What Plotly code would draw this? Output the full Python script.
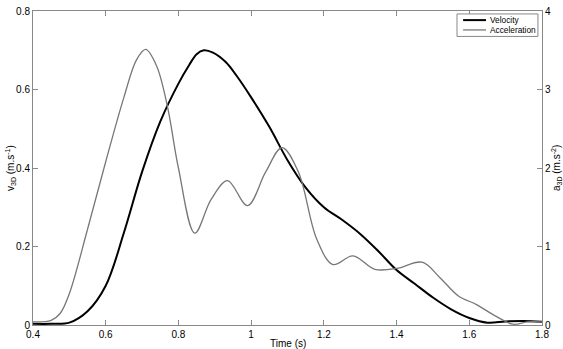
import plotly.graph_objects as go

# velocity (left axis, m/s)
vel_t = [0.40, 0.45, 0.50, 0.55, 0.60, 0.65, 0.70, 0.75, 0.80, 0.83, 0.85, 0.87,
         0.895, 0.93, 0.96, 1.00, 1.05, 1.10, 1.15, 1.20, 1.25, 1.30, 1.35, 1.40,
         1.45, 1.50, 1.55, 1.60, 1.65, 1.70, 1.75, 1.80]
vel_v = [0.003, 0.003, 0.006, 0.035, 0.10, 0.235, 0.39, 0.518, 0.615, 0.663, 0.69, 0.70,
         0.694, 0.67, 0.635, 0.58, 0.505, 0.42, 0.35, 0.30, 0.268, 0.232, 0.188, 0.14,
         0.105, 0.07, 0.04, 0.018, 0.006, 0.009, 0.01, 0.008]

# acceleration (right axis, m/s^2)
acc_t = [0.40, 0.45, 0.475, 0.50, 0.55, 0.60, 0.65, 0.685, 0.71, 0.74, 0.77, 0.80,
         0.845, 0.89, 0.935, 0.99, 1.04, 1.085, 1.13, 1.18, 1.225, 1.28, 1.34, 1.40,
         1.47, 1.52, 1.57, 1.62, 1.67, 1.72, 1.76, 1.80]
acc_v = [0.04, 0.06, 0.15, 0.40, 1.22, 2.08, 2.90, 3.38, 3.51, 3.30, 2.78, 2.00,
         1.17, 1.60, 1.84, 1.52, 1.95, 2.26, 1.95, 1.10, 0.77, 0.88, 0.71, 0.72,
         0.80, 0.60, 0.37, 0.26, 0.12, 0.01, 0.04, 0.04]

names = ['Velocity', 'Acceleration']
colors = ['black', '#777777']
widths = [2, 1.3]

fig = go.Figure()
fig.add_trace(go.Scatter(x=vel_t, y=vel_v, name=names[0], mode='lines',
                         line=dict(color=colors[0], width=widths[0], shape='spline', smoothing=1)))
fig.add_trace(go.Scatter(x=acc_t, y=acc_v, name=names[1], mode='lines', yaxis='y2',
                         line=dict(color=colors[1], width=widths[1], shape='spline', smoothing=1)))

axcol = '#888888'
font = dict(family='Liberation Sans, Arial, sans-serif', size=10, color='black')

# compact matlab-style legend drawn by hand (plotly's own rows are too tall)
shapes = [dict(type='rect', xref='paper', yref='paper', x0=0.833, x1=0.992, y0=0.919, y1=0.9906,
               line=dict(color=axcol, width=1), fillcolor='white', layer='above')]
annotations = []
for i, (nm, c, w) in enumerate(zip(names, colors, widths)):
    yy = 0.971 - i * 0.0313
    shapes.append(dict(type='line', xref='paper', yref='paper', x0=0.845, x1=0.89, y0=yy, y1=yy,
                       line=dict(color=c, width=w), layer='above'))
    annotations.append(dict(text=nm, xref='paper', yref='paper', x=0.894, y=yy, xanchor='left',
                            yanchor='middle', showarrow=False, font=dict(size=8.3)))

annotations += [
    dict(text='Time (s)', xref='paper', yref='paper', x=0.5, y=0, yshift=-18,
         xanchor='center', yanchor='middle', showarrow=False),
    dict(text='v<sub>3D</sub> (m.s<sup>-1</sup>)', xref='paper', yref='paper',
         x=0, y=0.5, xshift=-23, textangle=-90, xanchor='center', yanchor='middle',
         showarrow=False),
    dict(text='a<sub>3D</sub> (m.s<sup>-2</sup>)', xref='paper', yref='paper',
         x=1, y=0.5, xshift=14, textangle=-90, xanchor='center', yanchor='middle',
         showarrow=False),
]

fig.update_layout(
    width=563, height=349,
    margin=dict(l=33, r=21, t=5, b=24),
    paper_bgcolor='white', plot_bgcolor='white',
    font=font,
    showlegend=False,
    xaxis=dict(range=[0.4, 1.8], tickvals=[0.4, 0.6, 0.8, 1.0, 1.2, 1.4, 1.6, 1.8],
               ticktext=['0.4', '0.6', '0.8', '1', '1.2', '1.4', '1.6', '1.8'],
               ticks='inside', ticklen=5, tickcolor=axcol, showline=True, linecolor=axcol,
               mirror='ticks', showgrid=False, zeroline=False, ticklabeloverflow='allow',
               ticklabelstandoff=0),
    yaxis=dict(range=[0, 0.8], tickvals=[0, 0.2, 0.4, 0.6, 0.8],
               ticktext=['0', '0.2', '0.4', '0.6', '0.8'],
               ticks='inside', ticklen=5, tickcolor=axcol, showline=True, linecolor=axcol,
               mirror=True, showgrid=False, zeroline=False, ticklabeloverflow='allow'),
    yaxis2=dict(range=[0, 4], tickvals=[0, 1, 2, 3, 4], overlaying='y', side='right',
                ticks='inside', ticklen=5, tickcolor=axcol, showline=True, linecolor=axcol,
                showgrid=False, zeroline=False, ticklabeloverflow='allow'),
    shapes=shapes,
    annotations=annotations,
)

# the page body has a default 8px margin; drop it so the figure fills the window
fig.write_html("out.html", config={'displayModeBar': False},
               post_script="document.body.style.margin='0';document.body.style.overflow='hidden';")
